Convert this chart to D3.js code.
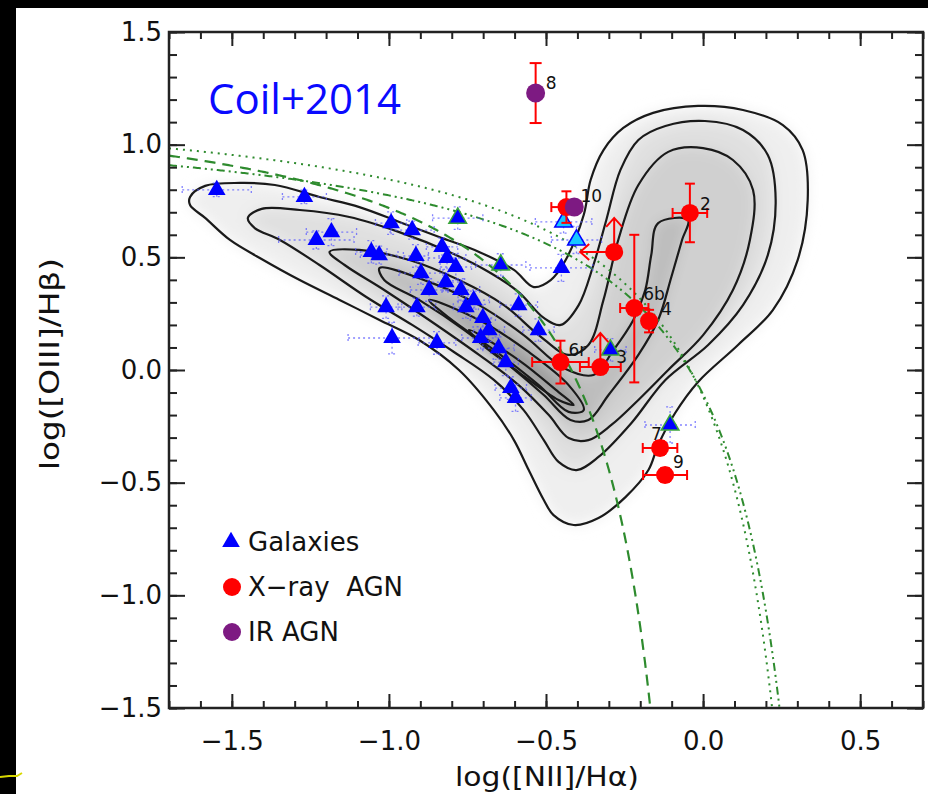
<!DOCTYPE html>
<meta charset="utf-8">
<script src="https://d3js.org/d3.v7.min.js"></script>
<body style="margin:0;background:#fff">
<svg id="chart" width="928" height="794"></svg>
<script>

// ---- values ----
var xMajor = [-1.5, -1.0, -0.5, 0.0, 0.5];
var yMajor = [-1.5, -1.0, -0.5, 0.0, 0.5, 1.0, 1.5];

// star-forming galaxies (blue triangles) and their errors
var galX    = [-1.548,-1.269,-1.183,-1.231,-1.056,-1.031,-0.993,-0.926,-0.914,-0.831,-0.815,-0.787,-0.898,-0.819,-1.009,-0.911,-0.755,-0.990,-0.847,-0.781,-0.730,-0.701,-0.708,-0.651,-0.628,-0.612,-0.597,-0.587,-0.524,-0.644,-0.444,-0.403,-0.451,-0.295,-0.105,-0.771,-0.682,-0.872];
var galY    = [ 0.799, 0.768, 0.612, 0.577, 0.524, 0.510, 0.652, 0.621, 0.506, 0.546, 0.497, 0.457, 0.430, 0.390, 0.279, 0.279, 0.279, 0.142, 0.120, 0.674, 0.310, 0.231, 0.142, 0.097, 0.035,-0.080,-0.124, 0.288, 0.177, 0.466, 0.657, 0.577, 0.453, 0.089,-0.244, 0.355, 0.177, 0.355];
var galXErr = [ 0.11, 0.07, 0.08, 0.12, 0.05, 0.06, 0.05, 0.07, 0.04, 0.05, 0.06, 0.05, 0.07, 0.06, 0.05, 0.06, 0.04, 0.14, 0.06, 0.08, 0.05, 0.04, 0.06, 0.05, 0.04, 0.05, 0.05, 0.06, 0.05, 0.08, 0.09, 0.08, 0.10, 0.05, 0.08, 0.06, 0.05, 0.06];
var galYErr = [ 0.03, 0.03, 0.06, 0.04, 0.05, 0.04, 0.05, 0.04, 0.05, 0.04, 0.05, 0.06, 0.05, 0.04, 0.05, 0.04, 0.05, 0.07, 0.05, 0.05, 0.04, 0.06, 0.05, 0.05, 0.06, 0.05, 0.06, 0.05, 0.05, 0.05, 0.05, 0.06, 0.06, 0.05, 0.08, 0.05, 0.05, 0.05];
var galKind = ["b","b","b","b","b","b","b","b","b","b","b","b","b","b","b","b","b","b","b","g","b","b","b","b","b","b","b","b","b","g","c","c","b","g","g","b","b","b"];

// X-ray AGN (red)
var xrayLabel = ["2", "1", "6b", "4", "6r", "3", "7", "9", "10"];
var xrayX     = [-0.042,-0.283,-0.219,-0.172,-0.454,-0.327,-0.137,-0.121,-0.435];
var xrayY     = [ 0.697, 0.524, 0.275, 0.217, 0.035, 0.013,-0.346,-0.466, 0.723];
var xrayXErr  = [ 0.055, 0,     0.045, 0.02,  0.09,  0.065, 0.055, 0.07,  0.048];
var xrayYUp   = [ 0.13,  0,     0.325, 0.05,  0.095, 0,     0.03,  0.03,  0.07];
var xrayYDown = [ 0.13,  0,     0.33,  0.05,  0.095, 0,     0.03,  0.03,  0.07];
var xrayXUpperLimit = [false, true, false, false, false, false, false, false, false];
var xrayYLowerLimit = [false, true, false, false, false, true, false, false, false];
var xrayLabelShift = [[10,-3],[0,0],[9,-8],[12,-6],[8,-6],[16,-4],[-9,-8],[8,-7],[14,-5]];

// IR AGN (purple)
var irLabel = ["8", ""];
var irX     = [-0.533, -0.410];
var irY     = [ 1.229,  0.723];
var irYErr  = [ 0.133,  0];

// SDSS density contours, outer to inner
var contour1 = [[-1.633,0.768],[-1.585,0.817],[-1.474,0.830],[-1.363,0.821],[-1.221,0.768],[-1.094,0.723],[-0.967,0.657],[-0.840,0.590],[-0.713,0.524],[-0.602,0.444],[-0.539,0.368],[-0.485,0.399],[-0.441,0.479],[-0.380,0.688],[-0.358,0.843],[-0.317,0.976],[-0.254,1.074],[-0.159,1.141],[-0.016,1.172],[0.127,1.154],[0.254,1.087],[0.317,0.976],[0.333,0.754],[0.301,0.488],[0.222,0.266],[0.111,0.111],[-0.016,-0.053],[-0.089,-0.191],[-0.143,-0.333],[-0.174,-0.444],[-0.247,-0.564],[-0.333,-0.657],[-0.412,-0.688],[-0.476,-0.644],[-0.507,-0.577],[-0.555,-0.444],[-0.602,-0.311],[-0.666,-0.178],[-0.777,0.000],[-0.904,0.133],[-1.030,0.222],[-1.157,0.311],[-1.284,0.399],[-1.411,0.497],[-1.506,0.577],[-1.585,0.675],[-1.633,0.732]];
var contour2 = [[-1.449,0.675],[-1.405,0.715],[-1.284,0.710],[-1.126,0.679],[-0.967,0.612],[-0.808,0.524],[-0.682,0.435],[-0.587,0.346],[-0.507,0.231],[-0.453,0.200],[-0.396,0.288],[-0.349,0.466],[-0.308,0.666],[-0.263,0.888],[-0.206,1.021],[-0.120,1.083],[0.006,1.105],[0.127,1.065],[0.206,0.954],[0.231,0.754],[0.206,0.510],[0.127,0.288],[0.016,0.111],[-0.120,-0.044],[-0.228,-0.235],[-0.333,-0.386],[-0.403,-0.444],[-0.460,-0.408],[-0.507,-0.311],[-0.571,-0.178],[-0.666,-0.044],[-0.793,0.080],[-0.926,0.200],[-1.072,0.324],[-1.221,0.466],[-1.347,0.577],[-1.427,0.630]];
var contour3 = [[-1.189,0.524],[-1.094,0.533],[-0.935,0.488],[-0.777,0.399],[-0.634,0.288],[-0.523,0.155],[-0.428,0.067],[-0.365,0.111],[-0.317,0.311],[-0.270,0.577],[-0.206,0.821],[-0.111,0.968],[0.000,0.985],[0.095,0.932],[0.159,0.799],[0.149,0.577],[0.095,0.355],[0.000,0.155],[-0.111,0.000],[-0.206,-0.133],[-0.292,-0.244],[-0.365,-0.311],[-0.428,-0.302],[-0.491,-0.200],[-0.587,-0.067],[-0.713,0.067],[-0.872,0.222],[-1.015,0.355],[-1.141,0.466]];
var contour4 = [[-1.030,0.453],[-0.872,0.391],[-0.713,0.288],[-0.571,0.155],[-0.444,0.009],[-0.349,-0.022],[-0.285,0.089],[-0.222,0.222],[-0.184,0.355],[-0.165,0.510],[-0.143,0.652],[-0.048,0.666],[-0.067,0.577],[-0.101,0.413],[-0.143,0.222],[-0.206,0.067],[-0.301,-0.111],[-0.365,-0.222],[-0.422,-0.222],[-0.507,-0.111],[-0.618,0.022],[-0.761,0.178],[-0.904,0.311],[-1.015,0.399]];
var contour5 = [[-0.872,0.311],[-0.713,0.222],[-0.555,0.080],[-0.428,-0.067],[-0.380,-0.178],[-0.428,-0.186],[-0.523,-0.067],[-0.666,0.089],[-0.808,0.231]];
var contour6 = [[-0.745,0.178],[-0.587,0.044],[-0.460,-0.098],[-0.412,-0.155],[-0.460,-0.133],[-0.587,-0.009],[-0.713,0.124]];

// demarcation curves y = a/(x - b) + c
var kauffmann03 = [0.61, 0.05, 1.30];
var kewley01    = [0.61, 0.47, 1.19];
var kewley13z   = [0.61, 0.44, 1.269];

// ---- layout ----
var svg = d3.select("#chart");
var pLeft = 169, pRight = 923, pTop = 32, pBottom = 708;

var x = d3.scaleLinear().domain([-1.7, 0.7]).range([pLeft, pRight]);
var y = d3.scaleLinear().domain([-1.5, 1.5]).range([pBottom, pTop]);

svg.append("rect").attr("width", 928).attr("height", 794).attr("fill", "#fff");
svg.append("rect").attr("width", 928).attr("height", 8).attr("fill", "#000");
svg.append("rect").attr("width", 16).attr("height", 794).attr("fill", "#000");
svg.append("path").attr("d", "M0,777 L9,776 L17,776 L22,773")
    .attr("fill", "none").attr("stroke", "#d8d800").attr("stroke-width", 2);

var defs = svg.append("defs");
defs.append("clipPath").attr("id", "plotclip")
  .append("rect").attr("x", pLeft).attr("y", pTop)
    .attr("width", pRight - pLeft).attr("height", pBottom - pTop);
defs.append("filter").attr("id", "soft")
    .attr("x", "-20%").attr("y", "-20%").attr("width", "140%").attr("height", "140%")
  .append("feGaussianBlur").attr("stdDeviation", 7);

var plot = svg.append("g").attr("clip-path", "url(#plotclip)");

var shape = d3.line()
    .x(function(d){ return x(d[0]) })
    .y(function(d){ return y(d[1]) })
    .curve(d3.curveCatmullRomClosed.alpha(0.5));

var contours = [contour1, contour2, contour3, contour4, contour5, contour6];
var grays = ["#efefef", "#e0e0e0", "#d0d0d0", "#bdbdbd", "#a6a6a6", "#8e8e8e"];

// grey density
plot.append("g").attr("filter", "url(#soft)")
  .selectAll("path")
  .data(contours)
  .enter()
  .append("path")
    .attr("d", shape)
    .attr("fill", function(d, i){ return grays[i] });

// contour lines
plot.append("g")
  .selectAll("path")
  .data(contours)
  .enter()
  .append("path")
    .attr("d", shape)
    .attr("fill", "none")
    .attr("stroke", "#1a1a1a")
    .attr("stroke-width", 2.2)
    .attr("stroke-linejoin", "round");

// demarcation lines
function curvePoints(p) {
    var xmax = p[1] + p[0] / (-1.5 - p[2]);
    return d3.range(-1.7, xmax, 0.005).concat([xmax]).map(function(v){
        return [v, p[0] / (v - p[1]) + p[2]];
    });
}
var demLine = d3.line().x(function(d){ return x(d[0]) }).y(function(d){ return y(d[1]) });
var green = "#2e8b2e";
plot.append("path").attr("d", demLine(curvePoints(kauffmann03)))
    .attr("fill", "none").attr("stroke", green).attr("stroke-width", 2.2)
    .attr("stroke-dasharray", "11,7");
plot.append("path").attr("d", demLine(curvePoints(kewley01)))
    .attr("fill", "none").attr("stroke", green).attr("stroke-width", 2)
    .attr("stroke-dasharray", "8,4,2,4,2,4");
plot.append("path").attr("d", demLine(curvePoints(kewley13z)))
    .attr("fill", "none").attr("stroke", green).attr("stroke-width", 2)
    .attr("stroke-dasharray", "2,5");

// galaxy error bars (dotted blue)
var galaxies = galX.map(function(v, i){
    return {x: v, y: galY[i], xe: galXErr[i], ye: galYErr[i], kind: galKind[i]};
});
var gErr = plot.append("g")
    .attr("stroke", "#5a5aff").attr("stroke-width", 1.3)
    .attr("stroke-dasharray", "2,3").attr("opacity", 0.75);
galaxies.forEach(function(d){
    var cx = x(d.x), cy = y(d.y);
    var x0 = x(d.x - d.xe), x1 = x(d.x + d.xe), y0 = y(d.y - d.ye), y1 = y(d.y + d.ye);
    gErr.append("line").attr("x1", x0).attr("x2", x1).attr("y1", cy).attr("y2", cy);
    gErr.append("line").attr("x1", cx).attr("x2", cx).attr("y1", y0).attr("y2", y1);
    [x0, x1].forEach(function(v){
        gErr.append("line").attr("x1", v).attr("x2", v).attr("y1", cy - 4).attr("y2", cy + 4).attr("stroke-dasharray", null);
    });
    [y0, y1].forEach(function(v){
        gErr.append("line").attr("x1", cx - 4).attr("x2", cx + 4).attr("y1", v).attr("y2", v).attr("stroke-dasharray", null);
    });
});

var tri = d3.symbol().type(d3.symbolTriangle).size(135);
plot.append("g")
  .selectAll("path")
  .data(galaxies)
  .enter()
  .append("path")
    .attr("d", tri)
    .attr("transform", function(d){ return "translate(" + x(d.x) + "," + y(d.y) + ")" })
    .attr("fill", function(d){ return d.kind == "c" ? "#18c8ff" : "#0000ff" })
    .attr("stroke", function(d){ return d.kind == "g" ? "#3aa53a" : (d.kind == "c" ? "#0000ff" : "none") })
    .attr("stroke-width", 1.5);

// X-ray AGN
var red = "#ff0000";
var agn = xrayX.map(function(v, i){
    return {x: v, y: xrayY[i], xe: xrayXErr[i], yu: xrayYUp[i], yd: xrayYDown[i],
            xlim: xrayXUpperLimit[i], ylim: xrayYLowerLimit[i], label: xrayLabel[i], shift: xrayLabelShift[i]};
});
var rErr = plot.append("g").attr("stroke", red).attr("stroke-width", 2).attr("fill", "none");
agn.forEach(function(d){
    var cx = x(d.x), cy = y(d.y);
    if (d.xe > 0) {
        var x0 = x(d.x - d.xe), x1 = x(d.x + d.xe);
        rErr.append("line").attr("x1", x0).attr("x2", x1).attr("y1", cy).attr("y2", cy);
        rErr.append("line").attr("x1", x0).attr("x2", x0).attr("y1", cy - 5).attr("y2", cy + 5);
        rErr.append("line").attr("x1", x1).attr("x2", x1).attr("y1", cy - 5).attr("y2", cy + 5);
    }
    if (d.yu > 0) {
        var y0 = y(d.y - d.yd), y1 = y(d.y + d.yu);
        rErr.append("line").attr("x1", cx).attr("x2", cx).attr("y1", y0).attr("y2", y1);
        rErr.append("line").attr("x1", cx - 5).attr("x2", cx + 5).attr("y1", y0).attr("y2", y0);
        rErr.append("line").attr("x1", cx - 5).attr("x2", cx + 5).attr("y1", y1).attr("y2", y1);
    }
    if (d.ylim) {
        rErr.append("path").attr("d", "M" + cx + "," + cy + "V" + (cy - 34)
            + "M" + (cx - 8) + "," + (cy - 25) + "L" + cx + "," + (cy - 34) + "L" + (cx + 8) + "," + (cy - 25));
    }
    if (d.xlim) {
        rErr.append("path").attr("d", "M" + cx + "," + cy + "H" + (cx - 34)
            + "M" + (cx - 25) + "," + (cy - 8) + "L" + (cx - 34) + "," + cy + "L" + (cx - 25) + "," + (cy + 8));
    }
});
plot.append("g")
  .selectAll("circle")
  .data(agn)
  .enter()
  .append("circle")
    .attr("cx", function(d){ return x(d.x) })
    .attr("cy", function(d){ return y(d.y) })
    .attr("r", 9)
    .attr("fill", red);

// IR AGN
var ir = irX.map(function(v, i){ return {x: v, y: irY[i], ye: irYErr[i], label: irLabel[i]} });
ir.forEach(function(d){
    if (d.ye > 0) {
        var cx = x(d.x), y0 = y(d.y - d.ye), y1 = y(d.y + d.ye);
        rErr.append("line").attr("x1", cx).attr("x2", cx).attr("y1", y0).attr("y2", y1);
        rErr.append("line").attr("x1", cx - 6).attr("x2", cx + 6).attr("y1", y0).attr("y2", y0);
        rErr.append("line").attr("x1", cx - 6).attr("x2", cx + 6).attr("y1", y1).attr("y2", y1);
    }
});
plot.append("g")
  .selectAll("circle")
  .data(ir)
  .enter()
  .append("circle")
    .attr("cx", function(d){ return x(d.x) })
    .attr("cy", function(d){ return y(d.y) })
    .attr("r", 9.5)
    .attr("fill", "#7d1a82");

// point labels
var labels = plot.append("g")
    .attr("font-family", "DejaVu Sans, sans-serif").attr("font-size", 17).attr("fill", "#111");
agn.forEach(function(d){
    if (d.label == "1") return;
    labels.append("text").attr("x", x(d.x) + d.shift[0]).attr("y", y(d.y) + d.shift[1]).text(d.label);
});
ir.forEach(function(d){
    if (d.label) labels.append("text").attr("x", x(d.x) + 10).attr("y", y(d.y) - 4).text(d.label);
});

// ---- axes ----
var minor = d3.range(-17, 8).map(function(v){ return v / 10 });
var minorY = d3.range(-15, 16).map(function(v){ return v / 10 });
var fmt = d3.format(".1f");

function styleAxis(g) {
    g.select(".domain").remove();
    g.selectAll("line").attr("stroke", "#222").attr("stroke-width", 2);
    g.attr("font-family", "DejaVu Sans, sans-serif").attr("font-size", 26);
    g.selectAll("text").attr("fill", "#111");
}

svg.append("g").attr("transform", "translate(0," + pBottom + ")")
    .call(d3.axisBottom(x).tickValues(minor).tickSize(-7).tickFormat(""))
    .call(styleAxis);
svg.append("g").attr("transform", "translate(0," + pBottom + ")")
    .call(d3.axisBottom(x).tickValues(xMajor).tickSize(-14).tickPadding(24).tickFormat(fmt))
    .call(styleAxis);
svg.append("g").attr("transform", "translate(0," + pTop + ")")
    .call(d3.axisTop(x).tickValues(minor).tickSize(-7).tickFormat(""))
    .call(styleAxis);
svg.append("g").attr("transform", "translate(0," + pTop + ")")
    .call(d3.axisTop(x).tickValues(xMajor).tickSize(-14).tickFormat(""))
    .call(styleAxis);
svg.append("g").attr("transform", "translate(" + pLeft + ",0)")
    .call(d3.axisLeft(y).tickValues(minorY).tickSize(-8).tickFormat(""))
    .call(styleAxis);
svg.append("g").attr("transform", "translate(" + pLeft + ",0)")
    .call(d3.axisLeft(y).tickValues(yMajor).tickSize(-16).tickPadding(7).tickFormat(fmt))
    .call(styleAxis);
svg.append("g").attr("transform", "translate(" + pRight + ",0)")
    .call(d3.axisRight(y).tickValues(minorY).tickSize(-8).tickFormat(""))
    .call(styleAxis);
svg.append("g").attr("transform", "translate(" + pRight + ",0)")
    .call(d3.axisRight(y).tickValues(yMajor).tickSize(-16).tickFormat(""))
    .call(styleAxis);

svg.append("rect")
    .attr("x", pLeft).attr("y", pTop)
    .attr("width", pRight - pLeft).attr("height", pBottom - pTop)
    .attr("fill", "none").attr("stroke", "#222").attr("stroke-width", 2.5);

// axis titles
svg.append("text")
    .attr("x", 547).attr("y", 786)
    .attr("text-anchor", "middle")
    .attr("textLength", 184).attr("lengthAdjust", "spacingAndGlyphs")
    .attr("font-family", "DejaVu Sans, sans-serif").attr("font-size", 27).attr("fill", "#111")
    .text("log([NII]/H\u03b1)");
svg.append("text")
    .attr("transform", "translate(59,364) rotate(-90)")
    .attr("text-anchor", "middle")
    .attr("textLength", 212).attr("lengthAdjust", "spacingAndGlyphs")
    .attr("font-family", "DejaVu Sans, sans-serif").attr("font-size", 27).attr("fill", "#111")
    .text("log([OIII]/H\u03b2)");

// legend
var legend = svg.append("g")
    .attr("font-family", "DejaVu Sans, sans-serif").attr("font-size", 26).attr("fill", "#111");
legend.append("path").attr("d", tri).attr("transform", "translate(231,542)").attr("fill", "#0000ff");
legend.append("text").attr("x", 248).attr("y", 551).text("Galaxies");
legend.append("circle").attr("cx", 232).attr("cy", 587).attr("r", 9).attr("fill", red);
legend.append("text").attr("x", 248).attr("y", 596).attr("xml:space", "preserve").text("X\u2212ray  AGN");
legend.append("circle").attr("cx", 232).attr("cy", 632).attr("r", 9).attr("fill", "#7d1a82");
legend.append("text").attr("x", 248).attr("y", 641).text("IR AGN");

// slide annotation
svg.append("text")
    .attr("x", 208).attr("y", 114)
    .attr("font-family", "Open Sans, sans-serif").attr("font-size", 42).attr("fill", "#0a0aff")
    .text("Coil+2014");

</script>
